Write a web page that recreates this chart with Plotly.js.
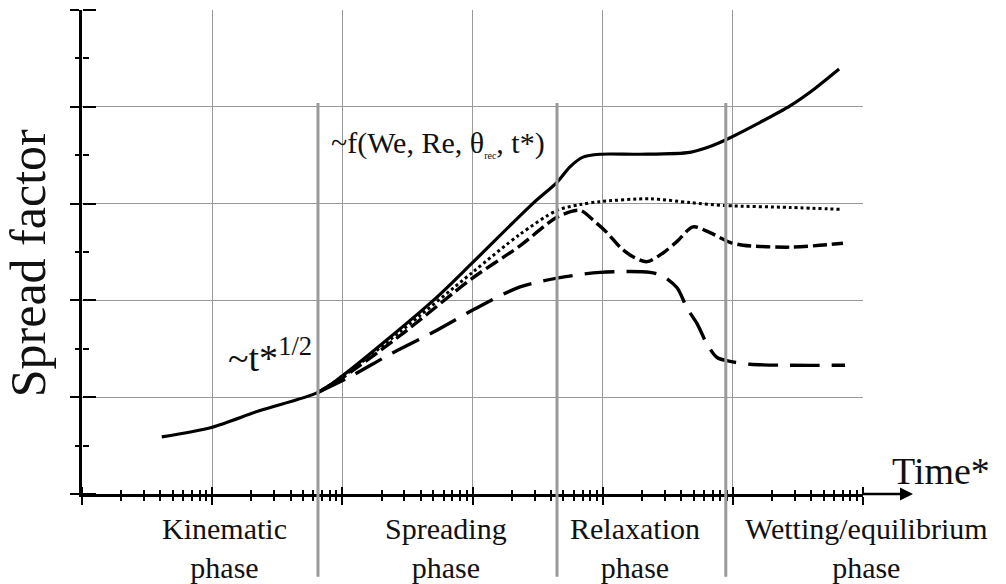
<!DOCTYPE html>
<html><head><meta charset="utf-8">
<script src="https://cdn.plot.ly/plotly-3.0.1.min.js"></script>
<style>html,body{margin:0;padding:0;background:#fff}</style>
</head><body>
<div id="chart" style="width:1006px;height:584px"></div>
<script>
// Dimensionless time t* (log axis) and spread factor values
const solidT = [4.1, 10, 23, 65, 100, 500, 1000, 2900, 4460, 5610, 7060, 9500, 19400, 46900, 66800, 88500, 162000, 275000, 428000, 655000];
const solidY = [0.59, 0.69, 0.86, 1.05, 1.22, 2.0, 2.39, 3.0, 3.22, 3.38, 3.48, 3.51, 3.51, 3.53, 3.59, 3.66, 3.84, 4.01, 4.19, 4.39];

const dottedT = [65, 100, 280, 1000, 2300, 4460, 6700, 9500, 23000, 47000, 88000, 275000, 690000];
const dottedY = [1.05, 1.21, 1.68, 2.29, 2.68, 2.93, 2.99, 3.02, 3.05, 3.01, 2.98, 2.96, 2.94];

const mediumDashT = [65, 100, 280, 1000, 2300, 4460, 6700, 8430, 10800, 13600, 17100, 21900, 29100, 37300, 49400, 66800, 95100, 119700, 275000, 701600];
const mediumDashY = [1.05, 1.20, 1.64, 2.23, 2.56, 2.86, 2.93, 2.83, 2.70, 2.55, 2.45, 2.40, 2.49, 2.61, 2.76, 2.70, 2.60, 2.57, 2.55, 2.59];

const longDashT = [65, 114, 245, 497, 1140, 2320, 4460, 9530, 23100, 29100, 37300, 44500, 53100, 63300, 75600, 95100, 135500, 275000, 727800];
const longDashY = [1.05, 1.21, 1.46, 1.67, 1.94, 2.14, 2.23, 2.29, 2.29, 2.25, 2.13, 1.92, 1.76, 1.55, 1.41, 1.37, 1.34, 1.33, 1.33];

// Phase boundaries (t*) and phase names
const phaseBounds = [65, 4460, 88300];
const phaseNames = ['Kinematic<br>phase', 'Spreading<br>phase', 'Relaxation<br>phase', 'Wetting/equilibrium<br>phase'];
const phaseLabelX = [0.183, 0.466, 0.708, 1.004];

// Axis tick positions: decades and log minor ticks (2..9 per decade)
const decades = [1, 10, 100, 1000, 10000, 100000, 1000000];
const minorDigits = [2, 3, 4, 5, 6, 7, 8, 9];
const xMinorTicks = [];
decades.slice(0, -1).forEach(d => minorDigits.forEach(m => xMinorTicks.push(d * m)));

const serif = 'Liberation Serif, Times New Roman, serif';

// The long-dash curve is drawn on the twin axes (identical ranges) so that they
// render their inward-pointing ticks, giving ticks that cross the axis lines.
const traces = [
  {x: solidT, y: solidY, mode: 'lines', line: {color: '#000', width: 3.2, shape: 'spline', smoothing: 0.8}, hoverinfo: 'skip'},
  {x: dottedT, y: dottedY, mode: 'lines', line: {color: '#000', width: 3, dash: '3px,3px', shape: 'spline', smoothing: 0.8}, hoverinfo: 'skip'},
  {x: mediumDashT, y: mediumDashY, mode: 'lines', line: {color: '#000', width: 3.4, dash: '14px,5px', shape: 'spline', smoothing: 0.8}, hoverinfo: 'skip'},
  {x: longDashT, y: longDashY, xaxis: 'x2', yaxis: 'y2', mode: 'lines', line: {color: '#000', width: 3.4, dash: '30px,12px', shape: 'spline', smoothing: 0.8}, hoverinfo: 'skip'}
];

const shapes = phaseBounds.map(b => ({
  type: 'line', xref: 'x', yref: 'paper', x0: b, x1: b, y0: -0.171, y1: 0.808,
  line: {color: '#9a9a9a', width: 3}, layer: 'above'
}));

const txt = (x, y, text, size, extra) => Object.assign({
  xref: 'paper', yref: 'paper', x: x, y: y, text: text, showarrow: false,
  xanchor: 'center', yanchor: 'middle', font: {family: serif, size: size, color: '#111'}
}, extra || {});

const annotations = [
  txt(-0.069, 0.477, 'Spread factor', 50, {textangle: -90}),
  txt(0.241, 0.287, '~t*<sup>1/2</sup>', 38),
  txt(0.456, 0.725, '~f(We, Re, θ<sub><span style="font-size:10px">rec</span></sub>, t*)', 30),
  txt(1.0999, 0.0475, 'Time*', 38),
  {xref: 'paper', yref: 'paper', x: 1.064, y: 0, ax: -52, ay: 0, text: '', showarrow: true,
   arrowhead: 2, arrowsize: 1, arrowwidth: 2.6, arrowcolor: '#000'}
].concat(phaseNames.map((n, i) => txt(phaseLabelX[i], -0.1116, n, 30)));

const tickStyle = {tickwidth: 2, tickcolor: '#000'};

const layout = {
  width: 1006, height: 584,
  margin: {l: 82, r: 143, t: 10, b: 90},
  paper_bgcolor: '#fff', plot_bgcolor: '#fff',
  showlegend: false,
  xaxis: Object.assign({type: 'log', range: [0, 6], tickmode: 'array', tickvals: decades, showticklabels: false,
    showgrid: true, gridcolor: '#999', gridwidth: 1.3, zeroline: false,
    showline: true, linecolor: '#000', linewidth: 3,
    ticks: 'outside', ticklen: 8,
    minor: Object.assign({tickmode: 'array', tickvals: xMinorTicks, ticks: 'outside', ticklen: 4, showgrid: false}, tickStyle)}, tickStyle),
  xaxis2: Object.assign({type: 'log', range: [0, 6], tickmode: 'array', tickvals: decades, overlaying: 'x',
    side: 'top', anchor: 'free', position: 0, showticklabels: false,
    showgrid: false, zeroline: false, showline: false,
    ticks: 'outside', ticklen: 7,
    minor: Object.assign({tickmode: 'array', tickvals: xMinorTicks, ticks: 'outside', ticklen: 4, showgrid: false}, tickStyle)}, tickStyle),
  yaxis: Object.assign({range: [0, 5], dtick: 1, showticklabels: false,
    showgrid: true, gridcolor: '#999', gridwidth: 1.3, zeroline: false,
    showline: true, linecolor: '#000', linewidth: 3,
    ticks: 'outside', ticklen: 9,
    minor: Object.assign({dtick: 0.5, ticks: 'outside', ticklen: 4, showgrid: false}, tickStyle)}, tickStyle),
  yaxis2: Object.assign({range: [0, 5], dtick: 1, overlaying: 'y', side: 'right', anchor: 'free', position: 0,
    showticklabels: false, showgrid: false, zeroline: false, showline: false,
    ticks: 'outside', ticklen: 13,
    minor: Object.assign({dtick: 0.5, ticks: 'outside', ticklen: 6, showgrid: false}, tickStyle)}, tickStyle),
  shapes: shapes,
  annotations: annotations
};

Plotly.newPlot('chart', traces, layout, {staticPlot: true, displayModeBar: false});
</script>
</body></html>
